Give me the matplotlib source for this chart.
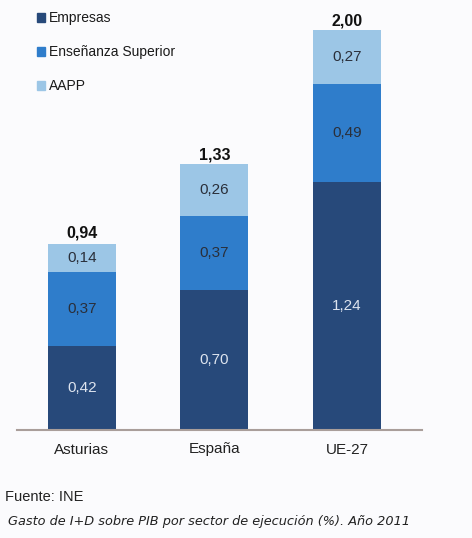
import matplotlib
matplotlib.use("Agg")
import matplotlib.pyplot as plt
from matplotlib.patches import Rectangle

categories = ["Asturias", "España", "UE-27"]
series_names = ["Empresas", "Enseñanza Superior", "AAPP"]
empresas = [0.42, 0.70, 1.24]
ensenanza = [0.37, 0.37, 0.49]
aapp = [0.14, 0.26, 0.27]
totals = [0.94, 1.33, 2.00]

colors = ["#27497a", "#2f7dcb", "#9cc6e6"]
label_colors = ["#dde4ef", "#2a2f3a", "#2a2f3a"]

NARROW = ["Liberation Sans Narrow", "Liberation Sans", "DejaVu Sans"]

fig = plt.figure(figsize=(4.72, 5.38), dpi=100)
fig.patch.set_facecolor("#fbfbfd")
W, H = 472, 538
ax = fig.add_axes([17 / W, 108 / H, 405 / W, 420 / H])
ax.set_facecolor("none")

x = list(range(len(categories)))
width = 0.513
bottoms = [0.0] * len(categories)
for vals, col, lc in zip([empresas, ensenanza, aapp], colors, label_colors):
    ax.bar(x, vals, width=width, bottom=bottoms, color=col, edgecolor="none")
    for i, v in enumerate(vals):
        ax.text(x[i], bottoms[i] + v / 2, f"{v:.2f}".replace(".", ","),
                ha="center", va="center", fontsize=11, color=lc, family=NARROW)
    bottoms = [b + v for b, v in zip(bottoms, vals)]

for i, t in enumerate(totals):
    ax.text(x[i], t + 0.01, f"{t:.2f}".replace(".", ","), ha="center", va="bottom",
            fontsize=11.5, fontweight="bold", color="#111111", family=NARROW)

ax.set_xlim(-0.49, 2.566)
ax.set_ylim(0, 2.1)
for s in ["top", "right", "left"]:
    ax.spines[s].set_visible(False)
ax.spines["bottom"].set_color("#a99e9a")
ax.spines["bottom"].set_linewidth(1.5)
ax.set_yticks([])
ax.set_xticks(x)
ax.set_xticklabels(categories, fontsize=11, family=NARROW, color="#222222")
ax.tick_params(axis="x", length=0, pad=9)

# legend
leg_y = [18, 52, 86]
for name, col, yy in zip(series_names, colors, leg_y):
    fig.patches.append(Rectangle((37 / W, 1 - (yy + 4) / H), 8 / W, 9 / H,
                                 transform=fig.transFigure, color=col))
    fig.text(49 / W, 1 - yy / H, name, fontsize=10, family=NARROW,
             color="#1a1a1a", va="center", ha="left")

fig.text(5 / W, 1 - 497 / H, "Fuente: INE", fontsize=10.5, family=NARROW,
         color="#222222", va="center", ha="left")
fig.text(8 / W, 1 - 521 / H, "Gasto de I+D sobre PIB por sector de ejecución (%). Año 2011",
         fontsize=9.3, family="DejaVu Sans", style="italic", color="#222222",
         va="center", ha="left")

fig.savefig("out.png", dpi=100, facecolor=fig.get_facecolor())
